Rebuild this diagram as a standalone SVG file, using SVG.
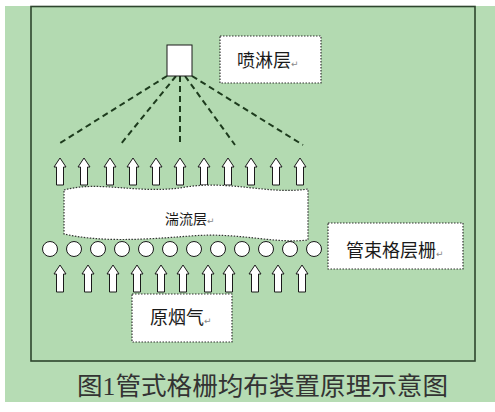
<svg xmlns="http://www.w3.org/2000/svg" xmlns:xlink="http://www.w3.org/1999/xlink" width="495" height="412" viewBox="0 0 495 412">
<style>
.lbl{font-family:"Liberation Sans","Noto Sans CJK SC",sans-serif;fill:#1a1a1a}
.pm{font-family:"DejaVu Sans",sans-serif;fill:#888;font-size:9px}
.box{fill:#fff;stroke:#333;stroke-width:1.2;stroke-dasharray:1.5 1.5}
.arr{fill:#fff;stroke:#1a1a1a;stroke-width:1}
.tube{fill:#fff;stroke:#1a1a1a;stroke-width:1}
.spray{fill:none;stroke:#1d3b1d;stroke-width:2;stroke-dasharray:6 4}
</style>
<defs>
<path id="arrow" class="arr" d="M0,0 L6,9 L3.5,9 L3.5,27 L-3.5,27 L-3.5,9 L-6,9 Z"/>
</defs>
<rect x="0" y="0" width="495" height="412" fill="#fff"/>
<rect x="5" y="6" width="490" height="396" fill="#b6dcb4"/>
<rect id="frame" x="31" y="6.5" width="444" height="354.5" fill="#b3dab1" stroke="#2e452e" stroke-width="1.6"/>

<g id="connectors">
<line class="spray" x1="167" y1="76" x2="57" y2="145"/>
<line class="spray" x1="176" y1="76" x2="120" y2="145"/>
<line class="spray" x1="180" y1="76" x2="180" y2="145"/>
<line class="spray" x1="185" y1="76" x2="235" y2="145"/>
<line class="spray" x1="192" y1="76" x2="303" y2="145"/>
</g>

<g id="nozzle"><rect x="167" y="45" width="25" height="31" fill="#fff" stroke="#1a1a1a" stroke-width="1"/></g>

<g id="label-spray">
<rect class="box" x="220" y="36" width="101" height="47"/>
<text class="lbl" x="237" y="67" font-size="18">喷淋层<tspan class="pm">↵</tspan></text>
</g>

<g id="arrows-top">
<use xlink:href="#arrow" x="60" y="158"/>
<use xlink:href="#arrow" x="84" y="158"/>
<use xlink:href="#arrow" x="110" y="158"/>
<use xlink:href="#arrow" x="133" y="158"/>
<use xlink:href="#arrow" x="156" y="158"/>
<use xlink:href="#arrow" x="180" y="158"/>
<use xlink:href="#arrow" x="204" y="158"/>
<use xlink:href="#arrow" x="228" y="158"/>
<use xlink:href="#arrow" x="251" y="158"/>
<use xlink:href="#arrow" x="276" y="158"/>
<use xlink:href="#arrow" x="300" y="158"/>
</g>

<g id="turbulent-layer">
<path class="box" d="M64,190 C100,180 140,195 186,187 C230,180 270,195 308,189 L308,240 C272,244 240,232 190,236 C140,240 100,242 64,234 Z"/>
<text class="lbl" x="165" y="224" font-size="14">湍流层<tspan class="pm">↵</tspan></text>
</g>

<g id="tube-bank">
<circle class="tube" cx="50" cy="249" r="7.5"/>
<circle class="tube" cx="74" cy="249" r="7.5"/>
<circle class="tube" cx="98" cy="249" r="7.5"/>
<circle class="tube" cx="122" cy="249" r="7.5"/>
<circle class="tube" cx="146" cy="249" r="7.5"/>
<circle class="tube" cx="170" cy="249" r="7.5"/>
<circle class="tube" cx="194" cy="249" r="7.5"/>
<circle class="tube" cx="218" cy="249" r="7.5"/>
<circle class="tube" cx="242" cy="249" r="7.5"/>
<circle class="tube" cx="266" cy="249" r="7.5"/>
<circle class="tube" cx="290" cy="249" r="7.5"/>
<circle class="tube" cx="314" cy="249" r="7.5"/>
</g>

<g id="label-grid">
<rect class="box" x="328" y="223" width="135" height="46"/>
<text class="lbl" x="346" y="257" font-size="18">管束格层栅<tspan class="pm">↵</tspan></text>
</g>

<g id="arrows-bottom">
<use xlink:href="#arrow" x="60" y="265"/>
<use xlink:href="#arrow" x="88" y="265"/>
<use xlink:href="#arrow" x="113" y="265"/>
<use xlink:href="#arrow" x="137" y="265"/>
<use xlink:href="#arrow" x="161" y="265"/>
<use xlink:href="#arrow" x="183" y="265"/>
<use xlink:href="#arrow" x="208" y="265"/>
<use xlink:href="#arrow" x="229" y="265"/>
<use xlink:href="#arrow" x="255" y="265"/>
<use xlink:href="#arrow" x="278" y="265"/>
<use xlink:href="#arrow" x="302" y="265"/>
</g>

<g id="label-raw-gas">
<rect class="box" x="132" y="294" width="100" height="48"/>
<text class="lbl" x="150" y="324" font-size="18">原烟气<tspan class="pm">↵</tspan></text>
</g>

<text id="caption" x="77" y="395" font-size="25" fill="#333" font-family="'Liberation Serif','Noto Sans CJK SC',serif" textLength="371" lengthAdjust="spacingAndGlyphs">图1管式格栅均布装置原理示意图</text>
</svg>
